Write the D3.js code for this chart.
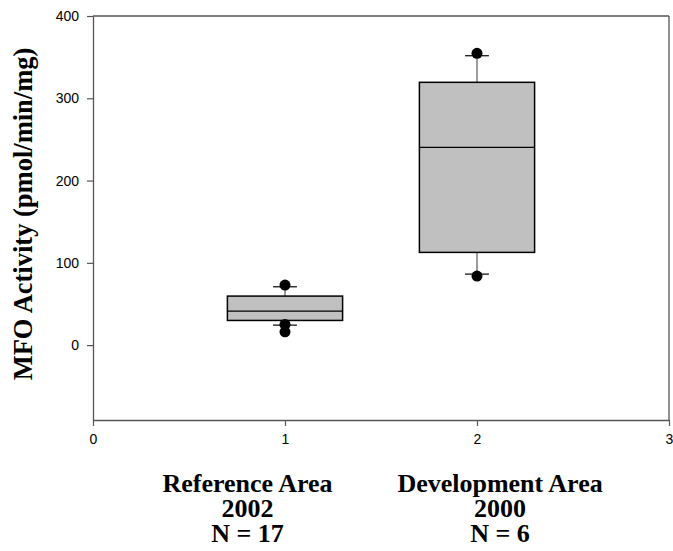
<!DOCTYPE html>
<html>
<head>
<meta charset="utf-8">
<script src="https://cdn.jsdelivr.net/npm/d3@7"></script>
<style>
  html, body { margin: 0; padding: 0; background: #fff; }
  svg { display: block; }
</style>
</head>
<body>
<svg id="chart" width="673" height="551"></svg>
<script>
// ---- data ----
const categoryPositions = [1, 2];
const categoryLabels = [
  ["Reference Area", "2002", "N = 17"],
  ["Development Area", "2000", "N = 6"]
];
const q1Values = [30, 112.7];
const medianValues = [41.3, 240.4];
const q3Values = [59.6, 319.4];
const whiskerLow = [24.3, 86.3];
const whiskerHigh = [70.9, 351.7];
const outlierValues = [[73, 25.2, 16.2], [354.6, 83.9]];
const xTicks = [0, 1, 2, 3];
const yTicks = [0, 100, 200, 300, 400];
const yTitle = "MFO Activity (pmol/min/mg)";

// ---- layout ----
const svg = d3.select("#chart");
const plotLeft = 93, plotRight = 669, plotTop = 16, plotBottom = 420;
const x = d3.scaleLinear().domain([0, 3]).range([plotLeft, plotRight]);
const y = d3.scaleLinear().domain([-91, 400]).range([plotBottom, plotTop]);
const boxHalf = 0.3, capHalf = 0.062;
const labelCenters = [0.805, 2.12];
const axisColor = "#555";

// frame top/right
svg.append("line").attr("x1", plotLeft).attr("x2", plotRight).attr("y1", plotTop).attr("y2", plotTop)
  .attr("stroke", axisColor).attr("stroke-width", 1.3);
svg.append("line").attr("x1", plotRight).attr("x2", plotRight).attr("y1", plotTop).attr("y2", plotBottom)
  .attr("stroke", axisColor).attr("stroke-width", 1.3);

// axes
const yAxis = svg.append("g").attr("transform", `translate(${plotLeft},0)`)
  .call(d3.axisLeft(y).tickValues(yTicks).tickSize(6).tickPadding(8).tickSizeOuter(0));
const xAxis = svg.append("g").attr("transform", `translate(0,${plotBottom})`)
  .call(d3.axisBottom(x).tickValues(xTicks).tickSize(6).tickPadding(8).tickSizeOuter(0).tickFormat(d3.format("d")));
[yAxis, xAxis].forEach(g => {
  g.select(".domain").attr("stroke", axisColor).attr("stroke-width", 1.3);
  g.selectAll(".tick line").attr("stroke", axisColor).attr("stroke-width", 1.2);
  g.selectAll(".tick text").attr("fill", "#000")
    .style("font-family", "Arial, 'Liberation Sans', sans-serif").style("font-size", "14px");
});

// boxes
const boxes = svg.append("g");
categoryPositions.forEach((p, i) => {
  const g = boxes.append("g");
  g.append("line").attr("x1", x(p)).attr("x2", x(p))
    .attr("y1", y(q3Values[i])).attr("y2", y(whiskerHigh[i]))
    .attr("stroke", "#7a7a7a").attr("stroke-width", 1.5);
  g.append("line").attr("x1", x(p)).attr("x2", x(p))
    .attr("y1", y(q1Values[i])).attr("y2", y(whiskerLow[i]))
    .attr("stroke", "#7a7a7a").attr("stroke-width", 1.5);
  [whiskerHigh[i], whiskerLow[i]].forEach(v => {
    g.append("line").attr("x1", x(p - capHalf)).attr("x2", x(p + capHalf))
      .attr("y1", y(v)).attr("y2", y(v)).attr("stroke", "#000").attr("stroke-width", 1.2);
  });
  g.append("rect").attr("x", x(p - boxHalf)).attr("width", x(p + boxHalf) - x(p - boxHalf))
    .attr("y", y(q3Values[i])).attr("height", y(q1Values[i]) - y(q3Values[i]))
    .attr("fill", "#c0c0c0").attr("stroke", "#000").attr("stroke-width", 1.5);
  g.append("line").attr("x1", x(p - boxHalf)).attr("x2", x(p + boxHalf))
    .attr("y1", y(medianValues[i])).attr("y2", y(medianValues[i]))
    .attr("stroke", "#000").attr("stroke-width", 1.3);
  g.selectAll("circle.o").data(outlierValues[i]).enter().append("circle")
    .attr("class", "o")
    .attr("cx", x(p)).attr("cy", d => y(d)).attr("r", 5.5).attr("fill", "#000");
});

// category labels
categoryLabels.forEach((lines, i) => {
  const t = svg.append("text")
    .attr("text-anchor", "middle")
    .style("font-family", "'Times New Roman', 'Liberation Serif', serif")
    .style("font-weight", "bold").style("font-size", "26px").attr("fill", "#000");
  lines.forEach((ln, j) => {
    t.append("tspan").attr("x", x(labelCenters[i])).attr("y", 491.5 + j * 25).text(ln);
  });
});

// y title
svg.append("text")
  .attr("transform", `translate(32,214) rotate(-90)`)
  .attr("text-anchor", "middle")
  .style("font-family", "'Times New Roman', 'Liberation Serif', serif")
  .style("font-weight", "bold").style("font-size", "26.5px").attr("fill", "#000")
  .text(yTitle);
</script>
</body>
</html>
